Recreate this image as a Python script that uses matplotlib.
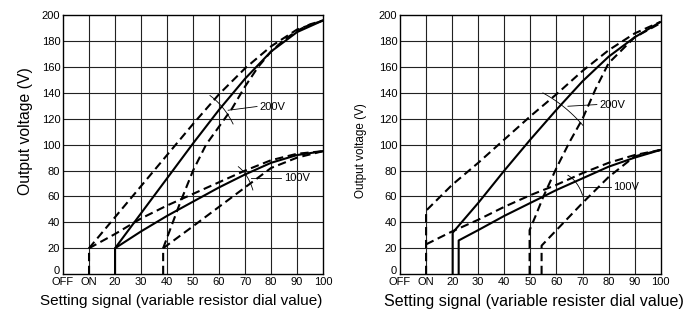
import matplotlib
matplotlib.use('Agg')
import matplotlib.pyplot as plt
import matplotlib.transforms as mtransforms
import numpy as np

plt.rcParams['font.family'] = ['Liberation Sans', 'DejaVu Sans']

xticks = [0, 10, 20, 30, 40, 50, 60, 70, 80, 90, 100]
xticklabels = ['OFF', 'ON', '20', '30', '40', '50', '60', '70', '80', '90', '100']
yticks = [0, 20, 40, 60, 80, 100, 120, 140, 160, 180, 200]

# left chart
L_s200_x = [20, 20, 30, 40, 50, 60, 70, 80, 90, 100]
L_s200_y = [0, 20, 47, 74, 101, 127, 151, 172, 187, 196]
L_du200_x = [10, 10, 20, 30, 40, 50, 60, 70, 80, 90, 100]
L_du200_y = [0, 20, 44, 68, 92, 116, 139, 159, 176, 189, 196]
L_dl200_x = [38.5, 38.5, 45, 50, 55, 60, 65, 70, 75, 80, 85, 90, 95, 100]
L_dl200_y = [0, 20, 55, 80, 100, 114, 128, 145, 160, 172, 181, 188, 193, 196]
L_s100_x = [20, 30, 40, 50, 60, 70, 80, 90, 100]
L_s100_y = [20, 33, 45, 56, 67, 77, 86, 92, 95]
L_du100_x = [10, 20, 30, 40, 50, 60, 70, 80, 90, 100]
L_du100_y = [20, 31, 43, 53, 62, 71, 80, 88, 93, 95]
L_dl100_x = [38.5, 50, 60, 70, 80, 90, 100]
L_dl100_y = [20, 37, 52, 67, 82, 90, 95]

# right chart
R_s200_x = [20.2, 20.2, 30, 40, 50, 60, 70, 80, 90, 100]
R_s200_y = [0, 32, 55, 80, 104, 127, 149, 168, 183, 195]
R_s100_x = [22.5, 22.5, 30, 40, 50, 60, 70, 80, 90, 100]
R_s100_y = [0, 26, 34, 45, 55, 65, 74, 83, 90, 96]
R_du200_x = [10, 10, 20, 30, 40, 50, 60, 70, 80, 90, 100]
R_du200_y = [0, 49, 69, 86, 104, 122, 139, 157, 173, 186, 195]
R_dl200_x = [49.7, 49.7, 52, 55, 60, 65, 70, 75, 80, 90, 100]
R_dl200_y = [0, 34, 45, 60, 82, 102, 120, 143, 163, 183, 194]
R_du100_x = [10, 20, 30, 40, 50, 60, 70, 80, 90, 100]
R_du100_y = [23, 33, 42, 52, 61, 69, 78, 86, 92, 96]
R_dl100_x = [54.3, 54.3, 60, 70, 80, 90, 100]
R_dl100_y = [0, 22, 34, 55, 75, 91, 96]

fig = plt.figure(figsize=(6.88, 3.18), dpi=100)
ax1 = fig.add_axes([0.0916, 0.138, 0.378, 0.814])
ax2 = fig.add_axes([0.5814, 0.138, 0.379, 0.814])

solid = dict(color='black', lw=1.5, solid_capstyle='butt')
dashed = dict(color='black', lw=1.5, linestyle=(0, (4, 2.2)))
thin = dict(color='black', lw=0.6)


def setup(ax, ylab, ylab_size, ylab_pos, xlab, xlab_size, xlab_pos):
    ax.set_xlim(0, 100)
    ax.set_ylim(0, 200)
    ax.set_xticks(xticks)
    ax.set_xticklabels(xticklabels)
    ax.set_yticks(yticks)
    ax.tick_params(length=0, labelsize=8, pad=2)
    # lift the "0" label above the OFF label
    lab0 = ax.get_yticklabels()[0]
    lab0.set_transform(lab0.get_transform() +
                       mtransforms.ScaledTranslation(0, 3 / 72, fig.dpi_scale_trans))
    for x in xticks[1:-1]:
        ax.axvline(x, color='#222222', lw=0.8, zorder=0)
    for y in yticks[1:-1]:
        ax.axhline(y, color='#222222', lw=0.8, zorder=0)
    for s in ax.spines.values():
        s.set_linewidth(1.0)
    ax.set_ylabel(ylab, fontsize=ylab_size)
    ax.yaxis.set_label_coords(ylab_pos[0], ylab_pos[1])
    ax.set_xlabel(xlab, fontsize=xlab_size)
    ax.xaxis.set_label_coords(xlab_pos[0], xlab_pos[1])


setup(ax1, 'Output voltage (V)', 11.3, (-0.115, 0.552),
      'Setting signal (variable resistor dial value)', 11, (0.454, -0.075))
setup(ax2, 'Output voltage (V)', 8.4, (-0.126, 0.479),
      'Setting signal (variable resister dial value)', 11.6, (0.513, -0.075))

ax1.plot(L_s200_x, L_s200_y, **solid)
ax1.plot(L_s100_x, L_s100_y, **solid)
ax1.plot(L_du200_x, L_du200_y, **dashed)
ax1.plot(L_dl200_x, L_dl200_y, **dashed)
ax1.plot(L_du100_x, L_du100_y, **dashed)
ax1.plot(L_dl100_x, L_dl100_y, **dashed)

ax2.plot(R_s200_x, R_s200_y, **solid)
ax2.plot(R_s100_x, R_s100_y, **solid)
ax2.plot(R_du200_x, R_du200_y, **dashed)
ax2.plot(R_dl200_x, R_dl200_y, **dashed)
ax2.plot(R_du100_x, R_du100_y, **dashed)
ax2.plot(R_dl100_x, R_dl100_y, **dashed)


def marker(ax, p0, p1, lead0, lead1, text):
    t = np.linspace(0, 1, 20)
    mx = (p0[0] + p1[0]) / 2 + 1.0
    my = (p0[1] + p1[1]) / 2 + 3
    xs = (1 - t) ** 2 * p0[0] + 2 * (1 - t) * t * mx + t ** 2 * p1[0]
    ys = (1 - t) ** 2 * p0[1] + 2 * (1 - t) * t * my + t ** 2 * p1[1]
    ax.plot(xs, ys, **thin)
    ax.plot([lead0[0], lead1[0]], [lead0[1], lead1[1]], **thin)
    ax.text(lead1[0] + 1, lead1[1], text, fontsize=8, va='center', ha='left')


marker(ax1, (56.5, 138), (65.4, 116), (63.5, 126.6), (74.6, 129.5), '200V')
marker(ax1, (67.4, 83), (73, 65), (72.2, 74), (84, 74), '100V')
marker(ax2, (54.8, 140), (70.1, 115), (64.4, 129.7), (75.5, 131), '200V')
marker(ax2, (64.4, 76.4), (70, 61), (70.1, 67), (80.8, 67), '100V')

fig.savefig('out.png', dpi=100)
